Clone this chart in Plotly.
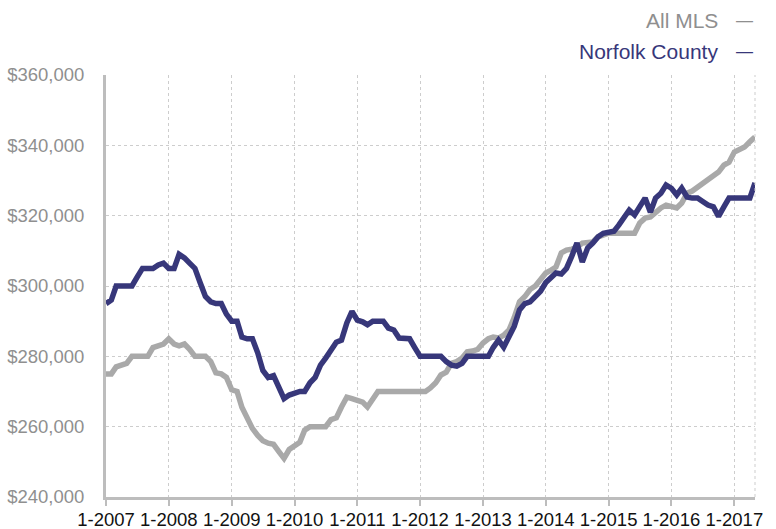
import pandas as pd
import plotly.graph_objects as go

months = pd.date_range("2007-01-01", periods=125, freq="MS")

all_mls = [
    275000, 275000, 277000, 277500, 278000, 280000, 280000, 280000, 280000, 282500,
    283000, 283500, 285000, 283500, 283000, 283500, 282000, 280000, 280000, 280000,
    278500, 275300, 275000, 274000, 270500, 270000, 265500, 262000, 259500, 257500,
    256000, 255300, 255000, 253000, 251000, 253500, 254800, 255600, 259000, 260000,
    260000, 260000, 260000, 262000, 262500, 265600, 268400, 268000, 267600, 267000,
    265600, 268000, 270000, 270000, 270000, 270000, 270000, 270000, 270000, 270000,
    270000, 270000, 271000, 272500, 274700, 275500, 278000, 278500, 279500, 281300,
    281500, 282000, 283800, 285000, 285500, 285200, 286000, 287500, 291000, 295500,
    297000, 299000, 300000, 301700, 303700, 304500, 305400, 309400, 310200, 310500,
    311000, 312200, 312500, 312500, 314000, 314500, 315000, 315000, 315000, 315000,
    315000, 315000, 317900, 319300, 319600, 321000, 322200, 323000, 322500, 322200,
    323600, 326400, 327000, 328100, 329000, 330100, 331000, 332400, 334400, 335200,
    338100, 339000, 339500, 341000, 342400,
]

norfolk = [
    295000, 296000, 300000, 300000, 300000, 300000, 302500, 305000, 305000, 305000,
    306000, 306500, 305000, 305000, 309000, 308000, 306500, 305000, 301000, 297000,
    295500, 295000, 295000, 292000, 290000, 290000, 285500, 285000, 285000, 281000,
    276000, 274000, 274500, 271000, 268000, 269000, 269600, 270000, 270000, 272500,
    274000, 277500, 279500, 281500, 284000, 284600, 289500, 292800, 290300, 289800,
    289000, 290000, 290000, 290000, 288000, 287500, 285200, 285000, 285000, 282500,
    280000, 280000, 280000, 280000, 280000, 278500, 277500, 277200, 278000, 280000,
    280000, 280000, 280000, 280000, 282500, 284600, 282600, 285500, 288500, 293200,
    295000, 295500, 297000, 298500, 301000, 302500, 303700, 303400, 305000, 308500,
    312200, 306800, 310800, 312200, 314000, 315000, 315400, 315600, 317300, 319300,
    321600, 320200, 322500, 325000, 321000, 325000, 326400, 328700, 327800, 325900,
    327800, 325300, 325000, 325000, 324000, 323000, 322500, 319800, 322500, 325000,
    325000, 325000, 325000, 325000, 329300,
]

tick_dates = pd.date_range("2007-01-01", periods=11, freq="12MS")
tick_labels = ["1-2007", "1-2008", "1-2009", "1-2010", "1-2011", "1-2012",
               "1-2013", "1-2014", "1-2015", "1-2016", "1-2017"]
y_ticks = [240000, 260000, 280000, 300000, 320000, 340000, 360000]

GRAY = "#a9a9a9"
NAVY = "#37377a"
FONT = "Liberation Sans, Arial, Helvetica, sans-serif"

fig = go.Figure()
fig.add_trace(go.Scatter(x=months, y=all_mls, mode="lines", name="All MLS",
                         line=dict(color=GRAY, width=5.5), showlegend=False))
fig.add_trace(go.Scatter(x=months, y=norfolk, mode="lines", name="Norfolk County",
                         line=dict(color=NAVY, width=5.5), showlegend=False))

L, R, T, B = 106, 21, 75, 32
W, H = 776, 529
pw, ph = W - L - R, H - T - B

def px_x(p):
    return (p - L) / pw

def px_y(p):
    return (H - B - p) / ph

fig.update_layout(
    width=W, height=H,
    margin=dict(l=L, r=R, t=T, b=B, pad=0, autoexpand=False),
    paper_bgcolor="white", plot_bgcolor="white",
    font=dict(family=FONT, size=18, color="#111111"),
    xaxis=dict(
        type="date", automargin=False,
        range=[months[0], months[-1]],
        tickvals=list(tick_dates), ticktext=tick_labels,
        showgrid=True, gridcolor="#cdcdcd", griddash="dot", gridwidth=1,
        showline=True, linecolor="#bdbdbd", linewidth=3,
        ticks="outside", ticklen=6, tickwidth=2, tickcolor="#bdbdbd",
        ticklabelstandoff=-2,
        tickfont=dict(size=18.5, color="#111111"),
        zeroline=False,
    ),
    yaxis=dict(
        range=[240000, 360000], automargin=False,
        tickvals=y_ticks, tickformat="$,.0f",
        showgrid=True, gridcolor="#cdcdcd", griddash="dot", gridwidth=1,
        showline=True, linecolor="#bdbdbd", linewidth=3,
        ticks="", ticklabelstandoff=15,
        tickfont=dict(size=18.5, color="#8f8f8f"),
        zeroline=False,
    ),
    shapes=[dict(type="line", xref="paper", yref="paper", x0=1, x1=1, y0=0, y1=1,
                 line=dict(color="#cdcdcd", width=1, dash="dot"))],
    annotations=[
        dict(text="All MLS", x=px_x(720), y=px_y(20), xref="paper", yref="paper",
             xanchor="right", yanchor="middle", showarrow=False,
             font=dict(size=21, color="#8f8f8f", family=FONT)),
        dict(text="—", x=px_x(734), y=px_y(20), xref="paper", yref="paper",
             xanchor="left", yanchor="middle", showarrow=False,
             font=dict(size=17, color="#8f8f8f", family=FONT)),
        dict(text="Norfolk County", x=px_x(720), y=px_y(51), xref="paper", yref="paper",
             xanchor="right", yanchor="middle", showarrow=False,
             font=dict(size=21, color=NAVY, family=FONT)),
        dict(text="—", x=px_x(734), y=px_y(51), xref="paper", yref="paper",
             xanchor="left", yanchor="middle", showarrow=False,
             font=dict(size=17, color=NAVY, family=FONT)),
    ],
)

fig.write_html("out.html", config={"displayModeBar": False},
               post_script="document.body.style.margin='0px';")
